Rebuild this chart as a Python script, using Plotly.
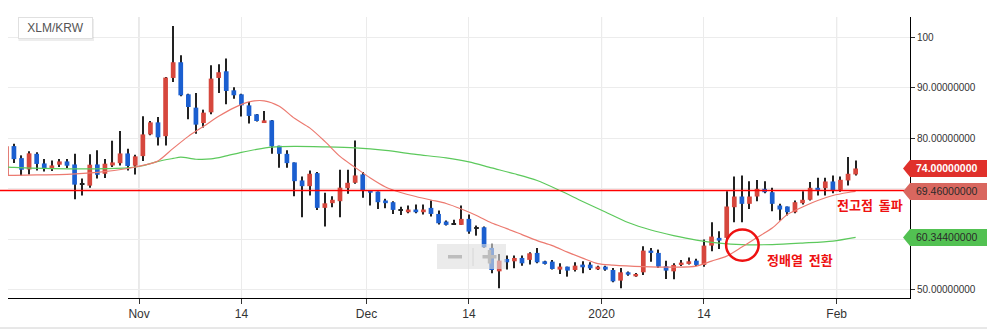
import pandas as pd
import plotly.graph_objects as go

# ---- daily XLM/KRW candles (2019-10-14 .. 2020-02-03) ----
days = pd.date_range("2019-10-14", "2020-02-03", freq="D")

opens = [72.7, 78.43, 76.05, 73.8, 76.9, 75.0, 73.95, 74.75, 75.4, 74.8,
         70.85, 70.6, 74.8, 72.95, 74.6, 75.05, 76.98, 74.55, 76.45, 80.75,
         83.13, 80.4, 91.93, 95.04, 88.69, 86.05, 83.0, 85.12, 91.93, 93.25,
         89.48, 88.69, 86.5, 84.72, 83.0, 83.53, 78.5, 76.9, 75.2, 71.63,
         70.5, 73.08, 66.2, 67.13, 67.52, 70.1, 71.17, 72.82, 69.64, 69.44,
         67.66, 67.32, 65.7, 65.34, 65.87, 65.34, 66.2, 65.0, 63.49, 62.83,
         62.83, 64.02, 62.25, 62.36, 58.27, 53.63, 56.08, 55.62, 56.28, 55.9,
         57.28, 55.62, 55.55, 53.97, 54.56, 53.9, 54.96, 54.96, 54.03, 54.56,
         53.9, 51.79, 53.44, 52.64, 53.44, 57.74, 57.28, 54.63, 53.63, 54.9,
         55.1, 55.75, 54.9, 58.73, 60.26, 60.26, 66.33, 68.45, 67.0, 68.45,
         69.97, 69.3, 66.67, 66.47, 65.34, 67.13, 67.8, 70.17, 70.1, 71.43,
         69.77, 71.63, 72.82]
highs = [78.45, 78.9, 76.6, 77.4, 77.2, 75.9, 75.6, 75.9, 75.9, 76.9,
         72.0, 76.8, 77.6, 75.9, 79.5, 81.4, 77.9, 76.7, 84.33, 83.4,
         84.2, 92.1, 102.24, 96.43, 88.8, 88.95, 85.65, 94.44, 94.64, 95.77,
         90.1, 88.8, 87.16, 84.8, 85.4, 83.6, 78.5, 77.6, 75.2, 72.4,
         73.6, 73.3, 69.2, 68.5, 73.75, 73.75, 79.56, 73.3, 69.64, 69.44,
         68.0, 67.5, 66.4, 66.67, 66.87, 66.87, 67.66, 65.67, 63.69, 63.83,
         66.67, 64.88, 62.7, 62.5, 59.07, 57.08, 56.75, 56.75, 56.75, 57.4,
         58.27, 55.75, 55.9, 55.22, 54.56, 55.42, 55.62, 55.42, 54.76, 54.76,
         54.3, 54.3, 53.6, 53.3, 58.6, 58.27, 57.94, 55.75, 55.22, 55.9,
         56.35, 56.1, 59.92, 63.36, 61.58, 69.5, 72.42, 72.62, 71.49, 71.7,
         71.49, 70.17, 67.0, 66.47, 67.66, 69.5, 71.3, 72.16, 72.16, 72.62,
         72.42, 76.25, 75.6]
lows = [72.5, 75.1, 72.6, 72.8, 73.6, 73.4, 73.5, 74.3, 74.1, 67.9,
        68.65, 70.2, 72.0, 72.1, 74.3, 74.6, 73.6, 72.8, 75.46, 80.56,
        78.57, 78.57, 91.13, 88.29, 83.73, 80.9, 82.1, 84.72, 88.95, 86.7,
        87.8, 84.3, 82.9, 83.3, 83.0, 76.9, 74.15, 74.15, 68.5, 64.35,
        68.65, 65.8, 62.5, 66.3, 64.35, 68.98, 70.97, 68.2, 66.67, 66.0,
        66.13, 65.0, 64.8, 65.14, 65.14, 64.88, 64.5, 62.9, 62.7, 62.83,
        62.83, 61.05, 60.7, 58.3, 53.24, 50.26, 53.97, 54.23, 54.76, 54.96,
        55.22, 54.96, 53.97, 53.11, 52.58, 53.6, 53.24, 53.9, 53.9, 53.77,
        51.45, 50.26, 52.78, 52.58, 52.9, 55.55, 54.3, 52.12, 52.05, 54.7,
        54.96, 54.7, 54.56, 57.6, 58.07, 59.7, 63.36, 63.36, 66.0, 67.52,
        69.1, 65.54, 63.69, 64.68, 65.14, 66.87, 67.66, 68.65, 68.65, 69.1,
        69.4, 70.63, 72.6]
closes = [78.4, 75.85, 73.75, 77.0, 74.9, 74.1, 74.6, 75.4, 74.55, 70.8,
          70.8, 74.75, 72.75, 74.95, 75.2, 76.98, 74.5, 76.4, 80.75, 83.13,
          80.16, 92.0, 95.04, 88.49, 86.17, 82.68, 85.06, 91.8, 93.06, 89.35,
          88.5, 86.5, 84.4, 83.4, 83.53, 78.37, 76.9, 75.06, 71.49, 70.5,
          72.95, 66.2, 67.1, 67.8, 70.2, 71.17, 72.62, 69.64, 69.2, 67.32,
          67.13, 65.8, 65.67, 65.87, 65.34, 65.87, 65.0, 63.15, 62.83, 62.83,
          64.02, 61.5, 62.2, 58.39, 53.9, 55.75, 55.42, 56.28, 55.22, 57.2,
          55.42, 55.1, 54.1, 54.56, 53.77, 54.76, 54.43, 54.23, 54.56, 53.97,
          51.65, 53.44, 52.98, 53.11, 57.74, 57.28, 54.56, 53.77, 54.9, 55.36,
          55.62, 54.9, 58.73, 60.52, 59.72, 66.47, 68.45, 67.0, 68.45, 69.97,
          69.3, 67.0, 65.87, 65.34, 67.32, 67.8, 70.17, 69.64, 71.43, 69.64,
          71.76, 72.95, 74.0]

# ---- moving averages (short / long) ----
ma_short_dates = ["2019-10-14", "2019-10-15", "2019-10-18", "2019-10-22", "2019-10-26",
                  "2019-10-30", "2019-11-01", "2019-11-03", "2019-11-05", "2019-11-07",
                  "2019-11-09", "2019-11-11", "2019-11-13", "2019-11-15", "2019-11-17",
                  "2019-11-19", "2019-11-21", "2019-11-23", "2019-11-25", "2019-11-27",
                  "2019-11-29", "2019-12-01", "2019-12-03", "2019-12-05", "2019-12-07",
                  "2019-12-09", "2019-12-11", "2019-12-13", "2019-12-15", "2019-12-17",
                  "2019-12-19", "2019-12-21", "2019-12-23", "2019-12-25", "2019-12-27",
                  "2019-12-29", "2019-12-31", "2020-01-02", "2020-01-06", "2020-01-10",
                  "2020-01-13", "2020-01-15", "2020-01-17", "2020-01-19", "2020-01-21",
                  "2020-01-23", "2020-01-25", "2020-01-27", "2020-01-29", "2020-01-31",
                  "2020-02-02", "2020-02-03"]
ma_short = [72.62, 72.62, 72.72, 72.82, 73.21,
            74.0, 74.6, 75.5, 77.98, 80.36,
            82.34, 84.33, 86.01, 87.2, 87.4,
            86.31, 83.93, 82.04, 79.37, 76.39,
            74.21, 72.12, 70.34, 69.25, 68.45,
            67.76, 67.06, 65.97, 64.68, 63.19,
            62.1, 60.91, 59.72, 58.73, 57.44,
            56.25, 55.16, 54.86, 54.56, 54.46,
            54.66, 55.65, 56.65, 58.43, 60.32,
            62.2, 64.88, 66.37, 67.66, 68.65,
            69.25, 69.46]

ma_long_dates = ["2019-10-14", "2019-10-15", "2019-10-19", "2019-10-23", "2019-10-27",
                 "2019-10-30", "2019-11-01", "2019-11-03", "2019-11-05", "2019-11-06",
                 "2019-11-08", "2019-11-10", "2019-11-12", "2019-11-14", "2019-11-16",
                 "2019-11-18", "2019-11-21", "2019-11-25", "2019-11-29", "2019-12-03",
                 "2019-12-07", "2019-12-11", "2019-12-14", "2019-12-17", "2019-12-20",
                 "2019-12-23", "2019-12-26", "2019-12-29", "2020-01-01", "2020-01-04",
                 "2020-01-07", "2020-01-10", "2020-01-13", "2020-01-16", "2020-01-19",
                 "2020-01-23", "2020-01-27", "2020-01-31", "2020-02-03"]
ma_long = [74.31, 74.21, 74.01, 73.91, 73.97,
           74.11, 74.54, 75.4, 75.99, 76.25,
           75.83, 75.89, 76.49, 77.18, 77.78,
           78.21, 78.37, 78.27, 78.08, 77.58,
           76.79, 76.09, 75.3, 74.11, 72.95,
           71.63, 69.64, 67.46, 65.37, 63.29,
           61.81, 60.71, 59.82, 59.23, 58.93,
           58.93, 59.23, 59.62, 60.344]

# ---- axes ----
tick_dates = ["2019-11-01", "2019-11-14 12:00", "2019-12-01", "2019-12-14 12:00",
              "2020-01-01", "2020-01-14 12:00", "2020-02-01"]
tick_labels = ["Nov", "14", "Dec", "14", "2020", "14", "Feb"]
price_ticks = [50, 60, 70, 80, 90, 100]
price_labels = ["50.00000000", "", "", "80.00000000", "90.00000000", "100"]

resistance_level = 69.65
symbol = "XLM/KRW"
note_cross = ["정배열", "전환"]
note_break = ["전고점", "돌파"]

UP = "#d6473d"
DOWN = "#1b5fd0"
WICK = "#222222"
FONT = "Liberation Sans, Arial, sans-serif"
KFONT = "Noto Sans CJK KR, sans-serif"

half_day = pd.Timedelta(hours=12)
xc = days + half_day
day_ms = 86400000

# plot area in pixels (for the overlay widgets only)
L, R, T, B = 8, 910, 17, 298
def px(x):
    return (x - L) / (R - L)
def py(y):
    return (B - y) / (B - T)

fig = go.Figure()

# wicks as thin bars (low..high)
fig.add_trace(go.Bar(
    x=xc, base=lows, y=[h - l for h, l in zip(highs, lows)],
    width=0.14 * day_ms, marker=dict(color=WICK, line=dict(width=0)),
    hoverinfo="skip", showlegend=False))

# bodies
body_base = [min(o, c) for o, c in zip(opens, closes)]
body_len = [max(abs(c - o), 0.2) for o, c in zip(opens, closes)]
body_col = [WICK if abs(c - o) < 0.1 else (UP if c >= o else DOWN)
            for o, c in zip(opens, closes)]
fig.add_trace(go.Bar(
    x=xc, base=body_base, y=body_len,
    width=0.62 * day_ms, marker=dict(color=body_col, line=dict(width=0)),
    hoverinfo="skip", showlegend=False))

fig.add_trace(go.Scatter(
    x=pd.to_datetime(ma_long_dates) + half_day, y=ma_long, mode="lines",
    line=dict(color="#5cc95c", width=1.2, shape="spline", smoothing=0.8),
    hoverinfo="skip", showlegend=False))
fig.add_trace(go.Scatter(
    x=pd.to_datetime(ma_short_dates) + half_day, y=ma_short, mode="lines",
    line=dict(color="#ec7a70", width=1.2, shape="spline", smoothing=0.8),
    hoverinfo="skip", showlegend=False))

shapes = []
annotations = []

# darker month gridlines
for d, lab in zip(tick_dates, tick_labels):
    if lab != "14":
        shapes.append(dict(type="line", xref="x", yref="paper", x0=d, x1=d, y0=0, y1=1,
                           line=dict(color="#cfcfcf", width=1), layer="below"))

# resistance line
shapes.append(dict(type="line", xref="paper", yref="y", x0=-L / (R - L), x1=1,
                   y0=resistance_level, y1=resistance_level,
                   line=dict(color="#ff0000", width=1.5), layer="above"))

# crossover marker circle
shapes.append(dict(type="circle", xref="x", yref="y",
                   x0="2020-01-17 10:00", x1="2020-01-21 17:00", y0=55.75, y1=61.9,
                   line=dict(color="#ee1111", width=2.5), layer="above"))

# price tags on the right axis
tags = [(closes[-1], "#e0302b", "white", True),
        (ma_short[-1], "#d9675f", "#2a2a2a", False),
        (ma_long[-1], "#52c152", "#2a2a2a", False)]
for val, bg, fg, bold in tags:
    shapes.append(dict(type="path", xref="paper", yref="y",
                       xsizemode="pixel", ysizemode="pixel", xanchor=1, yanchor=val,
                       path="M -7,0 L 0,8.5 L 95,8.5 L 95,-8.5 L 0,-8.5 Z",
                       fillcolor=bg, line=dict(width=0), layer="above"))
    txt = f"{val:.8f}"
    annotations.append(dict(xref="paper", yref="y", x=1, y=val, xanchor="left",
                            yanchor="middle", xshift=4, showarrow=False,
                            text=f"<b>{txt}</b>" if bold else txt,
                            font=dict(family=FONT, size=10.5, color=fg)))

# zoom control overlay
shapes.append(dict(type="rect", xref="paper", yref="paper",
                   x0=px(437), x1=px(506), y0=py(269), y1=py(244),
                   fillcolor="rgba(222,222,222,0.6)", line=dict(width=0), layer="above"))
shapes.append(dict(type="rect", xref="paper", yref="paper",
                   x0=px(448), x1=px(462), y0=py(258.5), y1=py(255),
                   fillcolor="#bdbdbd", line=dict(width=0), layer="above"))
shapes.append(dict(type="line", xref="paper", yref="paper",
                   x0=px(473), x1=px(473), y0=py(266), y1=py(248),
                   line=dict(color="#d6d6d6", width=1), layer="above"))
shapes.append(dict(type="rect", xref="paper", yref="paper",
                   x0=px(482.5), x1=px(496.5), y0=py(258.5), y1=py(255),
                   fillcolor="#bdbdbd", line=dict(width=0), layer="above"))
shapes.append(dict(type="rect", xref="paper", yref="paper",
                   x0=px(487.8), x1=px(491.2), y0=py(263.5), y1=py(250),
                   fillcolor="#bdbdbd", line=dict(width=0), layer="above"))

# symbol box shadow
shapes.append(dict(type="rect", xref="paper", yref="paper",
                   x0=px(18.5), x1=px(94), y0=py(41), y1=py(19),
                   fillcolor="rgba(0,0,0,0.07)", line=dict(width=0), layer="above"))
annotations.append(dict(xref="paper", yref="paper", x=px(18), y=1, xanchor="left",
                        yanchor="top", showarrow=False, text=symbol,
                        font=dict(family=FONT, size=12, color="#555555"),
                        bgcolor="white", bordercolor="#e0e0e0", borderwidth=1,
                        borderpad=3, width=67, height=14, align="center"))

gap = "\u00a0\u00a0"
annotations.append(dict(xref="x", yref="y", x="2020-01-27 04:00", y=55.95,
                        showarrow=False, text="<b>" + gap.join(note_cross) + "</b>",
                        font=dict(family=KFONT, size=13, color="#ee1111")))
annotations.append(dict(xref="x", yref="y", x="2020-02-05 08:00", y=66.77,
                        showarrow=False, text="<b>" + gap.join(note_break) + "</b>",
                        font=dict(family=KFONT, size=13, color="#ee1111")))

# bottom border line of the panel
shapes.append(dict(type="line", xref="paper", yref="paper",
                   x0=-L / (R - L), x1=(987 - L) / (R - L), y0=py(328), y1=py(328),
                   line=dict(color="#d0d0d0", width=1), layer="above"))

fig.update_layout(
    width=987, height=329,
    margin=dict(l=L, r=987 - R, t=T, b=329 - B),
    paper_bgcolor="white", plot_bgcolor="white",
    barmode="overlay", showlegend=False, hovermode=False,
    shapes=shapes, annotations=annotations,
    xaxis=dict(type="date", range=["2019-10-14 17:14", "2020-02-10 16:05"],
               tickvals=tick_dates, ticktext=tick_labels,
               showgrid=True, gridcolor="#ebebeb", gridwidth=1,
               showline=True, linecolor="black", linewidth=1,
               ticks="outside", ticklen=5, tickcolor="#333333",
               tickfont=dict(family=FONT, size=12, color="#333333"),
               zeroline=False, fixedrange=True),
    yaxis=dict(side="right", range=[48.35, 104.0],
               tickvals=price_ticks, ticktext=price_labels,
               showgrid=True, gridcolor="#ececec", gridwidth=1,
               showline=True, linecolor="black", linewidth=1,
               ticks="outside", ticklen=4, tickcolor="#333333",
               tickfont=dict(family=FONT, size=10, color="#333333"),
               zeroline=False, fixedrange=True),
)

fig.write_html("out.html", config={"displayModeBar": False})
